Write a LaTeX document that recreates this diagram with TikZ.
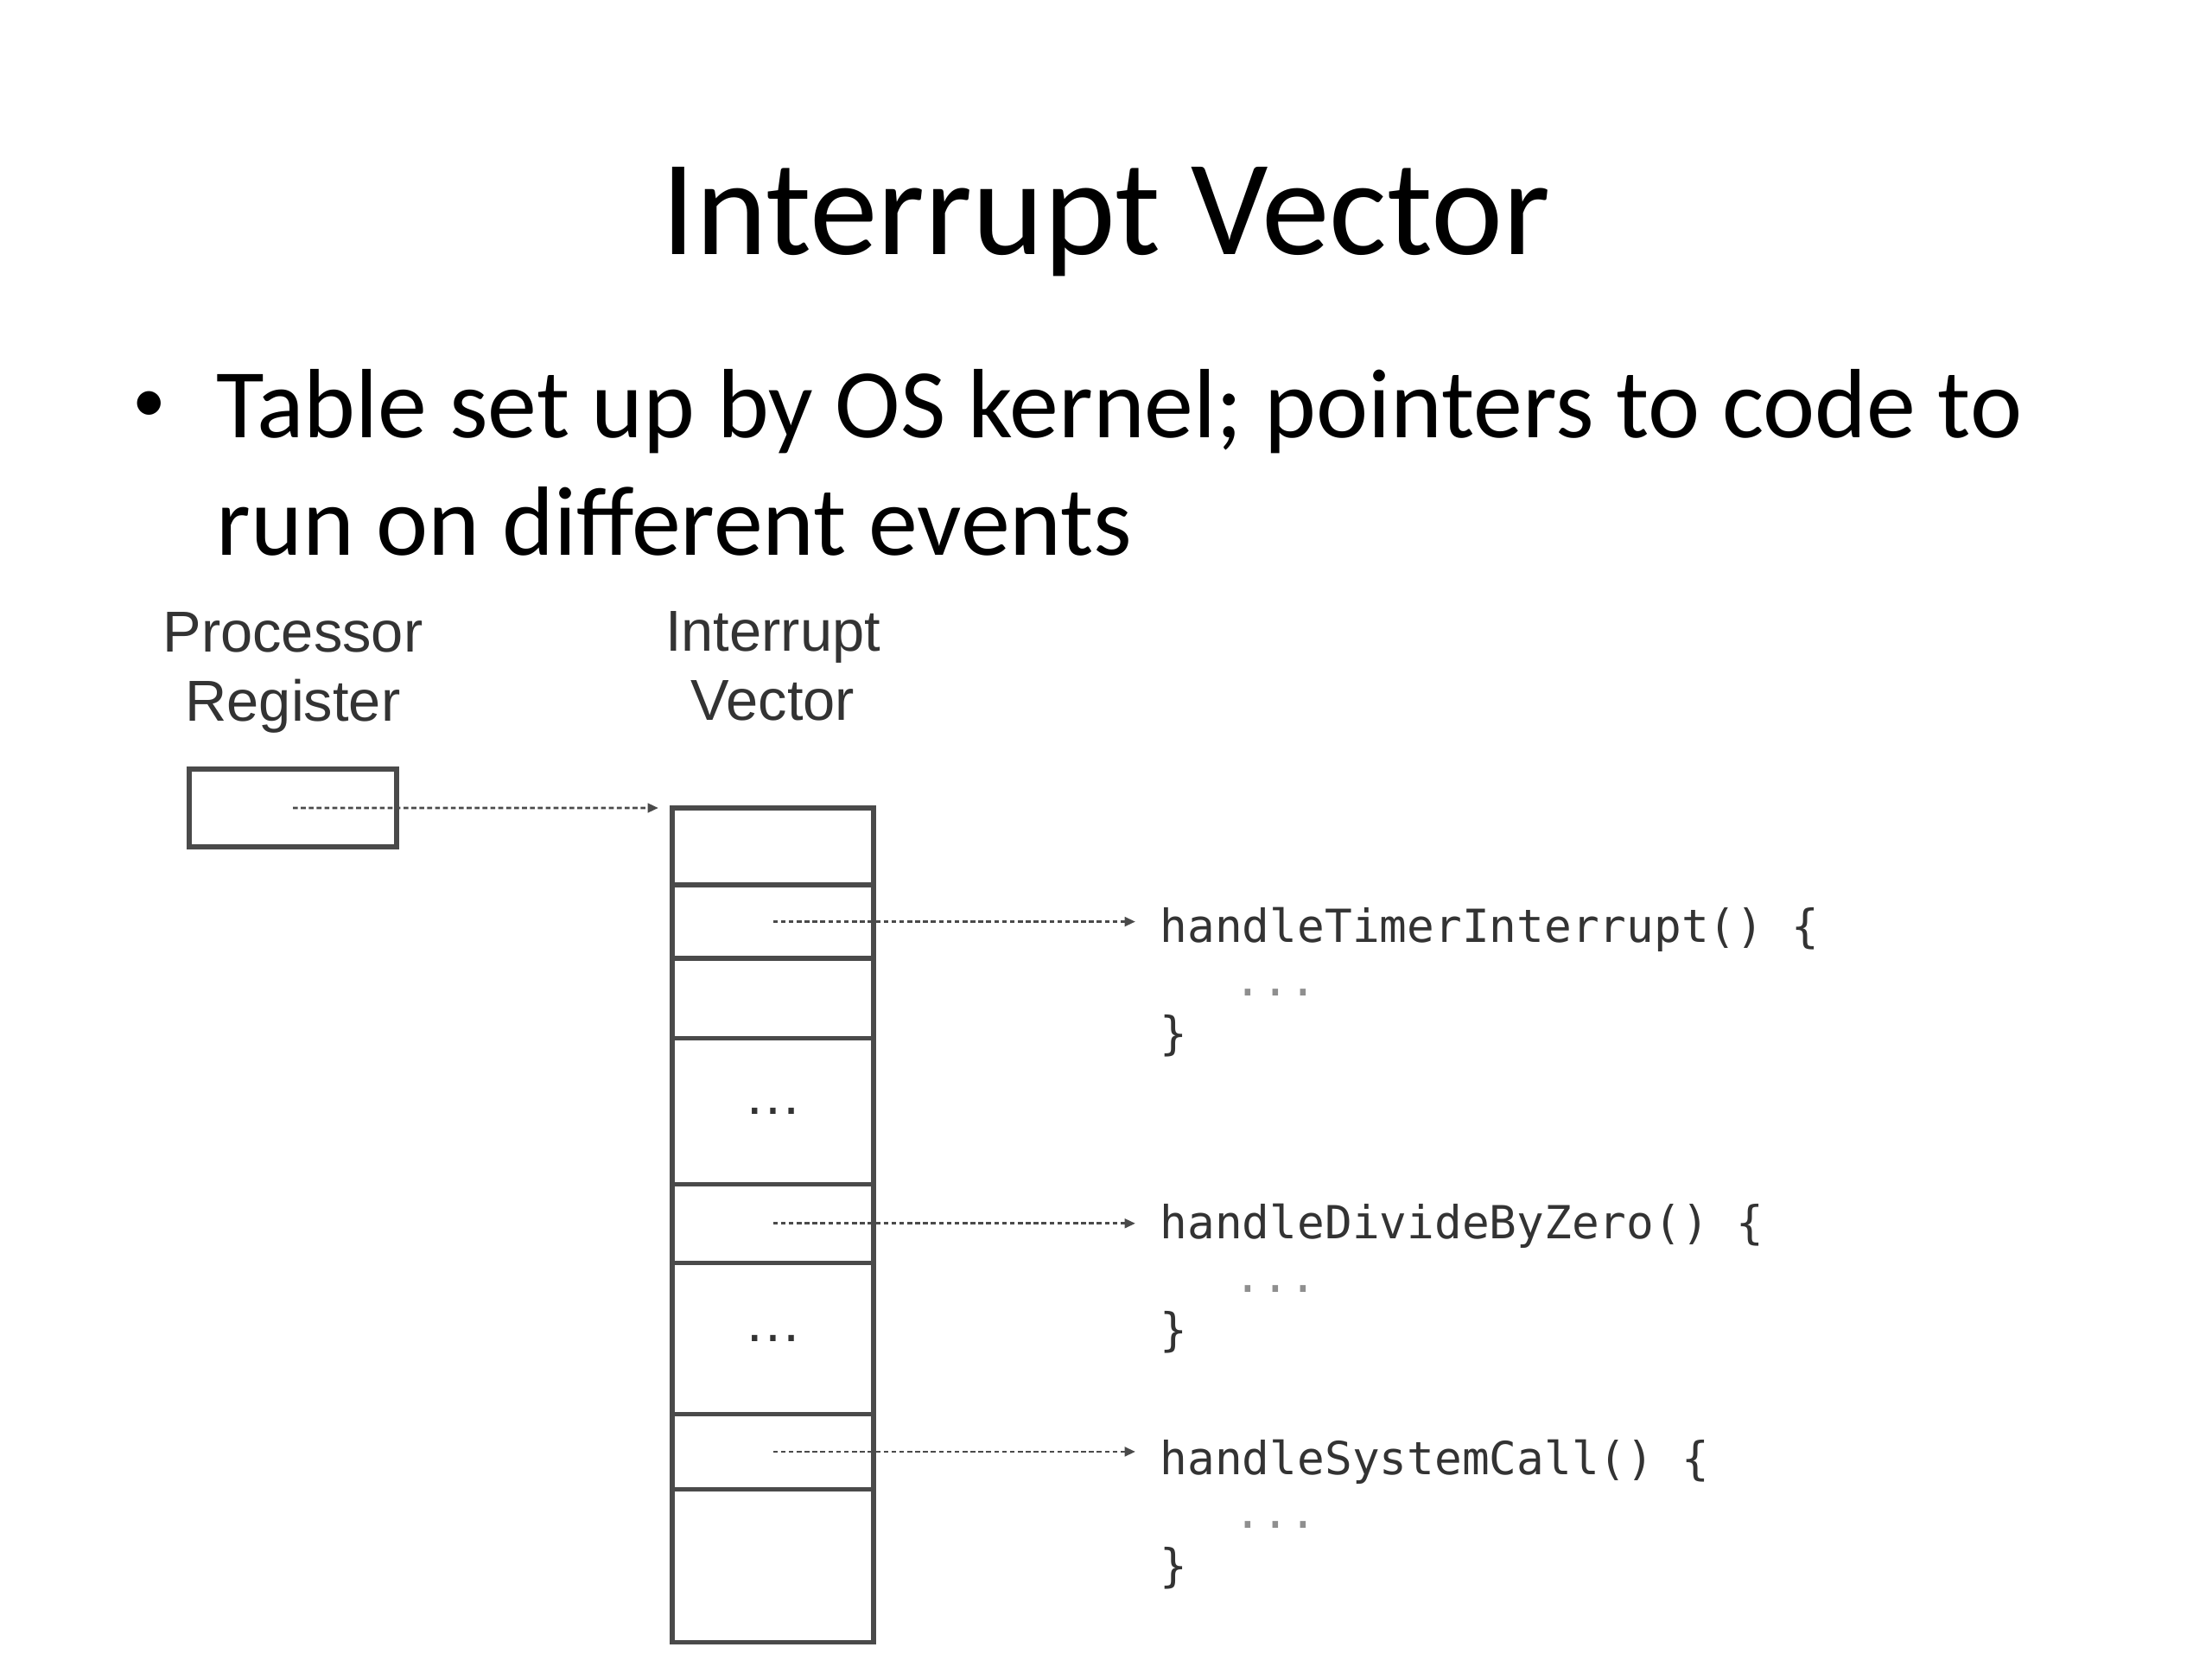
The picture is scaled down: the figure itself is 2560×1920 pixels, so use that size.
\documentclass[tikz,border=0pt]{standalone}
\usepackage{fontspec}
\setmainfont{Carlito}
\newfontfamily\figfont{Liberation Sans}
\newfontfamily\codefont{DejaVu Sans Mono}
\usepackage{tikz}
\usetikzlibrary{arrows.meta,positioning}
\definecolor{FigLine}{HTML}{4A4A4A}
\definecolor{FigText}{HTML}{333333}

\begin{document}
\begin{tikzpicture}[x=0.01cm, y=-0.01cm,
  slide/.style={inner sep=0pt, font=\fontsize{32.4}{38}\selectfont},
  slot/.style={draw=FigLine, line width=1.5pt, outer sep=0pt, inner sep=0pt,
    minimum width=2.33cm, text=FigText, font=\figfont\fontsize{19}{22}\selectfont},
  figlabel/.style={align=center, inner sep=0pt, text=FigText,
    font=\figfont\fontsize{19}{22.8}\selectfont},
  code/.style={anchor=base west, inner sep=0pt, text=FigText,
    font=\codefont\fontsize{15}{18}\selectfont},
  ptr/.style={FigLine, line width=0.8pt, dash pattern=on 1.6pt off 1pt,
    -{Triangle[length=3.5pt, width=3pt]}}]
  \useasboundingbox (0,0) rectangle (2560,1920);
  % title and bullet
  \node[anchor=base, inner sep=0pt, font=\fontsize{44.8}{52}\selectfont] (title) at (1280,294) {Interrupt Vector};
  \node[anchor=base, inner sep=0pt, font=\fontsize{22}{26}\selectfont] (dot) at (173,488) {•};
  \node[slide, anchor=base west] (line1) at (250,506) {Table set up by OS kernel; pointers to code to};
  \node[slide, anchor=base west] (line2) at (250,642) {run on different events};
  % processor register
  \node[slot, minimum width=2.4cm, minimum height=0.9cm] (reg) at (339,935) {};
  \node[figlabel, above=0.41cm of reg] (reglabel) {Processor\\Register};
  % interrupt vector, one slot per entry
  \node[slot, minimum height=0.89cm] (c1) at (894.5,979.5) {};
  \foreach \i/\h/\t in {2/0.85cm/, 3/0.92cm/, 4/1.69cm/\ldots, 5/0.91cm/,
                        6/1.75cm/\ldots, 7/0.87cm/, 8/1.77cm/}{%
    \pgfmathtruncatemacro\prev{\i-1}
    \node[slot, minimum height=\h, below=0pt of c\prev] (c\i) {\t};}
  \node[figlabel, above=1cm of c1] (veclabel) {Interrupt\\Vector};
  % register points at the vector
  \draw[ptr, shorten >=0.16cm] (reg.center) -- (c1.north west);
  % handlers the entries point at
  \foreach \s/\fn/\y in {c2/handleTimerInterrupt/1090, c5/handleDivideByZero/1433,
                         c7/handleSystemCall/1706}{%
    \node[code] (\fn) at (1342,\y) {\fn() \{};
    \node[code, text=FigText!55] (\fn-dots) at (1428,\y+62) {...};
    \node[code] (\fn-end) at (1342,\y+124) {\}};
    \draw[ptr, shorten >=0.28cm] (\s.center) -- (\s.center -| \fn.west);}
\end{tikzpicture}
\end{document}
